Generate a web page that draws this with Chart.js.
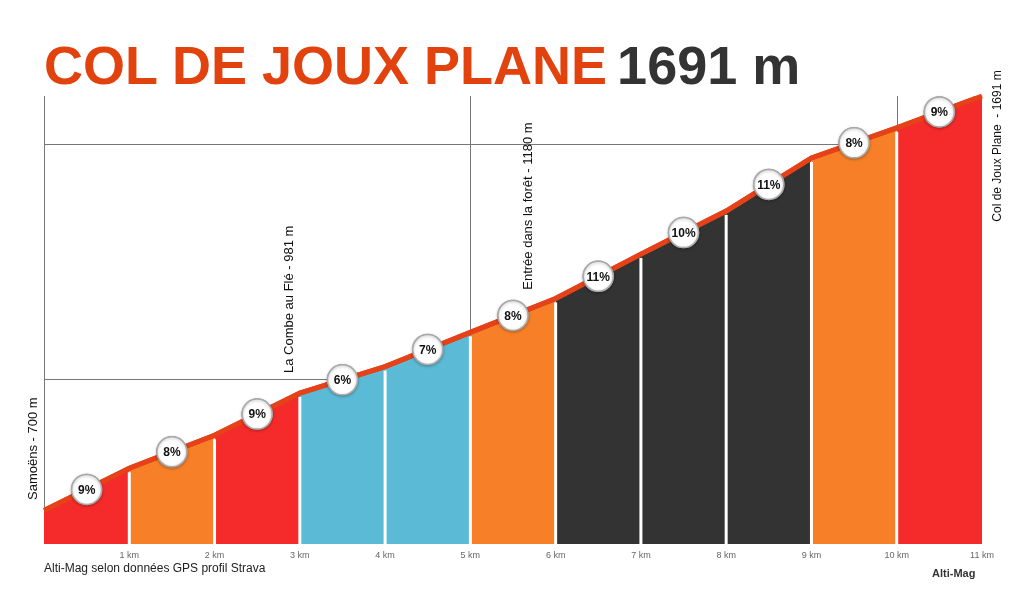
<!DOCTYPE html>
<html><head><meta charset="utf-8">
<script src="https://cdn.jsdelivr.net/npm/chart.js@4"></script>
<style>
body{margin:0;background:#fff;font-family:"Liberation Sans",Arial,sans-serif}
#wrap{position:relative;width:1024px;height:597px}
#title{position:absolute;left:44px;top:35px;font-size:54px;font-weight:bold;color:#e2420e;white-space:nowrap;line-height:60px}
#title span{color:#333;margin-left:10px}
#src{position:absolute;left:44px;top:561px;font-size:12px;color:#222}
#brand{position:absolute;left:932px;top:567px;font-size:11px;font-weight:bold;color:#333}
</style></head><body>
<div id="wrap">
<canvas id="c" width="1024" height="597"></canvas>
<div id="title">COL DE JOUX PLANE<span>1691 m</span></div>
<div id="src">Alti-Mag selon données GPS profil Strava</div>
<div id="brand">Alti-Mag</div>
</div>
<script>
const km = [0, 1, 2, 3, 4, 5, 6, 7, 8, 9, 10, 11];
const altitude = [700, 801, 880, 981, 1044, 1126, 1207, 1313, 1416, 1543, 1615, 1691];
const grades = ["9%", "8%", "9%", "6%", "7%", "8%", "11%", "10%", "11%", "8%", "9%"];
const segColors = ["#f52a2a", "#f77f27", "#f52a2a", "#5bbad5", "#5bbad5", "#f77f27", "#333333", "#333333", "#333333", "#f77f27", "#f52a2a"];
const places = [
  { km: 0, alt: 700, text: "Samoëns - 700 m" },
  { km: 3, alt: 981, text: "La Combe au Flé - 981 m" },
  { km: 5.8, alt: 1180, text: "Entrée dans la forêt - 1180 m" },
  { km: 11, alt: 1691, text: "Col de Joux Plane  - 1691 m" },
];
const gridAlt = [1014, 1576];
const gridKm = [5, 10];

const datasets = [];
datasets.push({
  type: "line",
  data: km.map((k, i) => ({ x: k, y: altitude[i] })),
  borderColor: "#e5421a", borderWidth: 5, pointRadius: 0, fill: false, order: 0,
});
datasets.push({
  type: "scatter",
  data: grades.map((g, i) => ({ x: km[i] + 0.5, y: (altitude[i] + altitude[i + 1]) / 2 })),
  pointRadius: 15, pointBackgroundColor: "#fff", pointBorderColor: "#aaa", pointBorderWidth: 1.5, order: -1,
});
for (let i = 0; i < grades.length; i++) {
  datasets.push({
    type: "line",
    data: [{ x: km[i], y: altitude[i] }, { x: km[i + 1], y: altitude[i + 1] }],
    borderWidth: 0, pointRadius: 0, fill: "origin", backgroundColor: segColors[i], order: 5,
  });
}

const decor = {
  id: "decor",
  beforeDatasetsDraw(chart) {
    const { ctx, chartArea: a, scales: { x, y } } = chart;
    ctx.save();
    ctx.strokeStyle = "#777"; ctx.lineWidth = 1;
    ctx.beginPath();
    gridAlt.forEach(v => { const py = Math.round(y.getPixelForValue(v)) + 0.5; ctx.moveTo(a.left, py); ctx.lineTo(a.right, py); });
    gridKm.forEach(v => { const px = Math.round(x.getPixelForValue(v)) + 0.5; ctx.moveTo(px, a.top); ctx.lineTo(px, a.bottom); });
    ctx.moveTo(a.left + 0.5, a.top); ctx.lineTo(a.left + 0.5, a.bottom);
    ctx.stroke();
    ctx.restore();
  },
  afterDatasetsDraw(chart) {
    const { ctx, chartArea: a, scales: { x, y } } = chart;
    ctx.save();
    ctx.strokeStyle = "#fff"; ctx.lineWidth = 3;
    for (let i = 1; i < km.length - 1; i++) {
      const px = x.getPixelForValue(km[i]);
      ctx.beginPath(); ctx.moveTo(px, y.getPixelForValue(altitude[i]) + 4); ctx.lineTo(px, a.bottom); ctx.stroke();
    }
    chart.getDatasetMeta(0).controller.draw();
    ctx.shadowColor = "rgba(0,0,0,0.25)"; ctx.shadowBlur = 3; ctx.shadowOffsetY = 1;
    chart.getDatasetMeta(1).controller.draw();
    ctx.shadowColor = "transparent";
    ctx.fillStyle = "#111"; ctx.font = "bold 12px 'Liberation Sans', Arial"; ctx.textAlign = "center"; ctx.textBaseline = "middle";
    chart.getDatasetMeta(1).data.forEach((p, i) => ctx.fillText(grades[i], p.x, p.y + 1));
    ctx.fillStyle = "#111";
    places.forEach(p => {
      let px = x.getPixelForValue(p.km) - 10;
      let py = y.getPixelForValue(p.alt) - 20;
      ctx.font = "13px 'Liberation Sans', Arial";
      if (p.km === 0) { px = 33; py = 500; }
      if (p.km === 11) { px = 998; py = 146; ctx.font = "12px 'Liberation Sans', Arial"; }
      ctx.save(); ctx.translate(px, py); ctx.rotate(-Math.PI / 2);
      ctx.textAlign = p.km === 11 ? "center" : "left";
      ctx.fillText(p.text, 0, 0); ctx.restore();
    });
    ctx.restore();
  },
};

new Chart(document.getElementById("c"), {
  data: { datasets },
  options: {
    responsive: false, animation: false,
    layout: { padding: { left: 44, right: 42, top: 96, bottom: 33 } },
    plugins: { legend: { display: false }, tooltip: { enabled: false } },
    scales: {
      x: {
        type: "linear", min: 0, max: 11,
        grid: { display: false }, border: { display: false },
        afterFit: s => { s.height = 20; },
        ticks: { stepSize: 1, padding: -2, color: "#666", font: { size: 9 }, maxRotation: 0,
          callback: v => (v === 0 ? "" : v + " km") },
      },
      y: { display: false, min: 620, max: 1691 },
    },
  },
  plugins: [decor],
});
</script>
</body></html>
